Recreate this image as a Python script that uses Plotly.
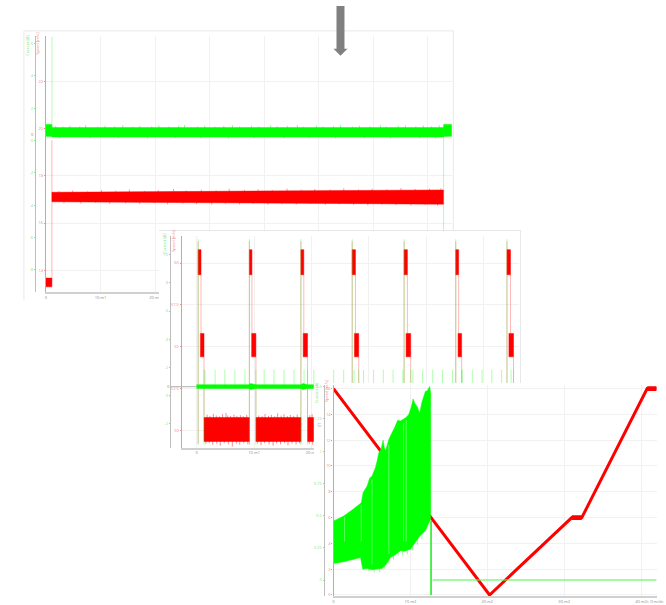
import plotly.graph_objects as go

W, H = 666, 605
RED, GREEN = "#ff0000", "#00ff00"
PINK = "rgba(255,0,0,0.28)"
LGREEN = "rgba(0,255,0,0.32)"
GRID = "#f1f1f1"
AX = "#bdbdbd"

# ---------- panel 1 data: long run ----------
p1_t = [1.1, 72.9]
p1_cur_hi = [0.80, 0.80]
p1_cur_lo = [0.22, 0.22]
p1_spd_hi = [17.30, 17.40]
p1_spd_lo = [16.90, 16.80]
p1_cur_up_t = [1.8, 3.1, 4.4, 6.2, 7.3, 9.5, 10.8, 12.6, 14.1, 15.9, 17.2, 19.4, 20.7, 22.5, 24.3, 25.4, 27.8, 29.1, 31.0, 32.6, 34.2, 35.5, 37.7, 39.0, 41.2, 42.4, 44.3, 46.1, 47.2, 49.6, 50.8, 52.7, 54.0, 56.2, 57.5, 59.4, 61.3, 62.4, 64.6, 65.9, 67.8, 69.2, 70.7, 72.1]
p1_cur_up_v = [0.90, 0.86, 0.92, 0.87, 0.95, 0.86, 0.91, 0.88, 0.94, 0.86, 0.90, 0.87, 0.93, 0.86, 0.89, 0.95, 0.87, 0.92, 0.86, 0.90, 0.94, 0.87, 0.91, 0.86, 0.93, 0.88, 0.90, 0.96, 0.86, 0.92, 0.87, 0.90, 0.94, 0.86, 0.91, 0.88, 0.95, 0.86, 0.90, 0.93, 0.87, 0.92, 0.88, 0.94]
p1_cur_dn_t = [2.5, 8.1, 13.3, 18.6, 23.7, 28.4, 33.5, 38.2, 43.6, 48.3, 53.1, 58.4, 63.2, 68.5, 71.4]
p1_cur_dn_v = [0.16, 0.15, 0.17, 0.14, 0.16, 0.15, 0.13, 0.16, 0.15, 0.17, 0.14, 0.16, 0.13, 0.15, 0.14]
p1_spd_up_t = [2.4, 4.9, 7.6, 10.2, 12.8, 15.3, 18.1, 20.6, 23.4, 25.7, 28.5, 31.2, 33.6, 36.4, 38.9, 41.5, 44.2, 46.8, 49.3, 52.1, 54.6, 57.3, 59.8, 62.5, 65.1, 67.7, 70.3, 72.4]
p1_spd_up_v = [17.36, 17.38, 17.34, 17.40, 17.37, 17.42, 17.36, 17.39, 17.44, 17.38, 17.41, 17.38, 17.45, 17.40, 17.43, 17.40, 17.46, 17.41, 17.44, 17.42, 17.47, 17.42, 17.45, 17.43, 17.48, 17.44, 17.46, 17.47]
p1_spd_dn_t = [3.3, 6.4, 9.1, 11.7, 14.6, 17.2, 19.8, 22.3, 25.1, 27.6, 30.4, 32.9, 35.5, 38.0, 40.7, 43.3, 45.9, 48.4, 51.2, 53.8, 56.4, 59.0, 61.6, 64.2, 66.9, 69.5, 71.8]
p1_spd_dn_v = [16.84, 16.82, 16.85, 16.81, 16.83, 16.80, 16.84, 16.79, 16.82, 16.80, 16.78, 16.82, 16.79, 16.81, 16.77, 16.80, 16.78, 16.81, 16.76, 16.79, 16.77, 16.75, 16.78, 16.76, 16.74, 16.77, 16.73]
p1_start_t = [0, 1.1]
p1_start_cur_hi = [0.99, 0.99]
p1_start_cur_lo = [0.26, 0.26]
p1_start_spd_hi = [13.67, 13.67]
p1_start_spd_lo = [13.30, 13.30]
p1_end_t = [72.9, 74.36]
p1_end_cur_hi = [0.99, 0.99]
p1_end_cur_lo = [0.26, 0.26]
p1_cur_spike_t = [1.1, 1.1, None, 72.9, 72.9]
p1_cur_spike_v = [6.42, 0.5, None, 0.5, -7.0]
p1_spd_step_t = [1.1, 1.1]
p1_spd_step_v = [19.5, 13.67]

p1_x_ticks = [0, 10, 20]
p1_x_labels = ["0", "10 m1", "20 m2"]
p1_x_grid = [0, 10, 20, 30, 40, 50, 60, 70]
p1_cur_ticks = [6, 4, 2, 0, -2, -4, -6, -8]
p1_spd_ticks = [22, 20, 18, 16, 14]

# ---------- panel 2 data: repeated bursts ----------
top_start = [0.25, 9.17, 18.15, 27.08, 36.12, 45.12, 54.04]
top_end = [0.75, 9.62, 18.65, 27.65, 36.69, 45.62, 54.65]
low_start = [0.65, 9.57, 18.55, 27.48, 36.47, 45.52, 54.38]
low_end = [1.27, 10.31, 19.30, 28.22, 37.27, 46.14, 55.18]
top_hi, top_lo = 60.8, 59.3
low_hi, low_lo = 55.8, 54.4

band_t = [1.27, 9.17, None, 10.31, 18.15, None, 19.30, 27.08]
band_hi = 50.78
band_lo = 49.35
band_up_t = [1.8, 2.3, 2.9, 3.4, 4.0, 4.5, 5.1, 5.4, 5.9, 6.5, 7.0, 7.6, 8.1, 8.7, 10.8, 11.4, 11.9, 12.5, 13.0, 13.6, 14.1, 14.7, 15.2, 15.8, 16.3, 16.9, 17.5, 19.7, 20.1]
band_up_v = [50.95, 50.88, 51.0, 50.9, 50.85, 50.98, 51.05, 50.9, 50.87, 50.95, 50.88, 50.92, 50.86, 50.94, 50.9, 50.86, 51.0, 50.88, 50.94, 50.86, 51.03, 50.9, 50.98, 50.86, 50.93, 50.88, 50.95, 50.92, 50.97]
band_dn_t = [1.6, 2.2, 2.8, 3.5, 4.1, 4.8, 5.5, 6.2, 6.9, 7.5, 8.2, 8.9, 10.6, 11.2, 11.8, 12.6, 13.3, 13.9, 14.6, 15.3, 15.9, 16.6, 17.3, 17.9, 19.6, 20.2]
band_dn_v = [49.2, 49.25, 49.15, 49.22, 49.1, 49.25, 49.18, 49.05, 49.22, 49.15, 49.24, 49.18, 49.22, 49.14, 49.25, 49.18, 49.1, 49.24, 49.18, 49.25, 49.12, 49.22, 49.17, 49.25, 49.2, 49.16]
p2_spike_t = [1.45, 3.2, 4.9, 6.65, 8.4, 11.75, 13.45, 15.2, 16.95, 18.7,
              20.4, 23.85, 25.6, 27.4, 29.05, 30.8, 32.5, 34.2, 35.9, 37.65,
              39.35, 41.1, 42.8, 44.55, 46.25, 48.0, 49.7, 51.4, 53.1, 54.75]
p2_spike_hi = 1.84
p2_base_t = [0, 9.0, 9.4, 10.4, 18.1, 18.5, 19.3, 55.5]
p2_base_hi = [0.78, 0.78, 0.86, 0.78, 0.78, 0.86, 0.78, 0.78]
p2_base_lo = [0.52, 0.52, 0.44, 0.52, 0.52, 0.44, 0.52, 0.52]
p2_cur_top = 11.1
p2_cur_bottom = -3.5
p2_x_ticks = [0, 10, 20]
p2_x_labels = ["0", "10 m1", "20 m2"]
p2_x_grid = [0, 10, 20, 30, 40, 50]
p2_cur_ticks = [10, 8, 6, 4, 2, 0, -2]
p2_spd_ticks = [60, 57.5, 55, 52.5, 50]

# ---------- panel 3 data: zoomed ramp ----------
p3_speed_t = [0, 20.3, 31.0, 32.3, 40.8, 42.0]
p3_speed_v = [16, 0, 6, 6, 16, 16]
p3_flat_t = [31.0, 32.3, None, 40.8, 42.0]
p3_flat_v = [6, 6, None, 16, 16]
p3_hi_t = [0.04, 1.34, 2.42, 3.51, 3.62, 3.85, 4.37, 4.7, 5.02, 5.3, 5.45, 5.7, 5.89, 6.2, 6.45, 6.6, 6.75, 7.0, 7.19, 7.5, 7.75, 8.0, 8.35, 8.7, 9.13, 9.4, 9.78, 10.1, 10.35, 10.6, 10.87, 11.21, 11.5, 11.95, 12.2, 12.51, 12.64]
p3_hi_v = [0.459, 0.4975, 0.544, 0.596, 0.60, 0.678, 0.730, 0.79, 0.807, 0.85, 0.871, 0.93, 0.987, 1.02, 1.085, 1.03, 1.0, 1.05, 1.09, 1.13, 1.168, 1.19, 1.24, 1.235, 1.25, 1.26, 1.284, 1.34, 1.405, 1.37, 1.348, 1.297, 1.38, 1.464, 1.47, 1.503, 1.451]
p3_lo_t = [0.04, 1.34, 3.51, 3.81, 4.4, 5.02, 5.6, 6.32, 6.9, 7.40, 8.0, 8.70, 9.3, 10.0, 10.6, 11.30, 11.95, 12.51, 12.64]
p3_lo_v = [0.129, 0.142, 0.175, 0.085, 0.09, 0.080, 0.085, 0.09, 0.125, 0.175, 0.195, 0.227, 0.225, 0.24, 0.285, 0.348, 0.382, 0.459, 0.48]
p3_whisk_t = [3.95, 4.6, 5.3, 6.0, 6.6, 7.2, 7.8, 8.4, 9.0, 9.6, 10.3, 10.9, 11.5]
p3_whisk_hi = [0.08, 0.07, 0.06, 0.06, 0.09, 0.13, 0.16, 0.19, 0.19, 0.20, 0.23, 0.27, 0.32]
p3_whisk_lo = [0.12, 0.12, 0.12, 0.12, 0.15, 0.20, 0.24, 0.25, 0.26, 0.28, 0.31, 0.36, 0.40]
p3_pale_t = [1.44, 3.6, 5.0, 7.2, 9.1, 9.45]
p3_pale_hi = [0.49, 0.58, 0.78, 1.05, 1.22, 1.24]
p3_pale_lo = [0.30, 0.30, 0.12, 0.20, 0.30, 0.30]
p3_drop_t = [12.69, 12.69]
p3_drop_v = [0.46, -0.116]
p3_rest_t = [12.9, 42.0]
p3_rest_v = [0.0, 0.0]
p3_x_ticks = [0, 10, 20, 30, 40]
p3_x_labels = ["0", "10 m2", "20 m2", "30 m2", "40 m2"]
p3_cur_ticks = [0, 0.25, 0.5, 0.75, 1, 1.25, 1.5]
p3_spd_ticks = [0, 2, 4, 6, 8, 10, 12, 14, 16]


def xdom(a, b):
    return [a / W, b / W]


def ydom(top, bottom):
    return [1 - bottom / H, 1 - top / H]


def poly(ts, hi, lo):
    return list(ts) + list(ts)[::-1] + [ts[0]], list(hi) + list(lo)[::-1] + [hi[0]]


def poly2(t_hi, hi, t_lo, lo):
    return list(t_hi) + list(t_lo)[::-1] + [t_hi[0]], list(hi) + list(lo)[::-1] + [hi[0]]


def rects(starts, ends, lo, hi):
    xs, ys = [], []
    for s, e in zip(starts, ends):
        xs += [s, e, e, s, s, None]
        ys += [lo, lo, hi, hi, lo, None]
    return xs, ys


def whiskers(ts, tips, base):
    xs, ys = [], []
    for i, t in enumerate(ts):
        b = base[i] if isinstance(base, list) else base
        xs += [t, t, None]
        ys += [b, tips[i], None]
    return xs, ys


fig = go.Figure()


def area(xs, ys, color, xa, ya, lw=0.5):
    fig.add_trace(go.Scatter(x=xs, y=ys, mode="lines", fill="toself", fillcolor=color,
                             line=dict(color=color, width=lw), xaxis=xa, yaxis=ya,
                             showlegend=False, hoverinfo="skip"))


def line(xs, ys, color, xa, ya, lw=1):
    fig.add_trace(go.Scatter(x=xs, y=ys, mode="lines", line=dict(color=color, width=lw),
                             xaxis=xa, yaxis=ya, showlegend=False, hoverinfo="skip"))


SOFT_G = "rgba(0,255,0,0.65)"
SOFT_R = "rgba(255,0,0,0.6)"

# panel 1: axes x / y (speed) / y2 (current)
line(p1_spd_step_t, p1_spd_step_v, PINK, "x", "y")
area(*poly(p1_t, p1_spd_hi, p1_spd_lo), RED, "x", "y")
line(*whiskers(p1_spd_up_t, p1_spd_up_v, 17.3), SOFT_R, "x", "y", 0.7)
line(*whiskers(p1_spd_dn_t, p1_spd_dn_v, 16.9), SOFT_R, "x", "y", 0.7)
area(*poly(p1_start_t, p1_start_spd_hi, p1_start_spd_lo), RED, "x", "y")
line(p1_cur_spike_t, p1_cur_spike_v, LGREEN, "x", "y2")
area(*poly(p1_t, p1_cur_hi, p1_cur_lo), GREEN, "x", "y2")
line(*whiskers(p1_cur_up_t, p1_cur_up_v, 0.75), SOFT_G, "x", "y2", 0.8)
line(*whiskers(p1_cur_dn_t, p1_cur_dn_v, 0.25), SOFT_G, "x", "y2", 0.8)
area(*poly(p1_start_t, p1_start_cur_hi, p1_start_cur_lo), GREEN, "x", "y2")
area(*poly(p1_end_t, p1_end_cur_hi, p1_end_cur_lo), GREEN, "x", "y2")

# panel 2: axes x3 / y4 (speed) / y5 (current)
long_x, long_y = [], []
for s, le in zip(top_start, low_end):
    long_x += [s, s, None, le, le, None]
    long_y += [p2_cur_top, p2_cur_bottom, None, p2_spike_hi, p2_cur_bottom, None]
line(long_x, long_y, "rgba(0,255,0,0.25)", "x3", "y5")
sp_x, sp_y = [], []
for t in p2_spike_t:
    sp_x += [t, t, None]
    sp_y += [p2_spike_hi, 0.6, None]
line(sp_x, sp_y, LGREEN, "x3", "y5")
area(*poly(p2_base_t, p2_base_hi, p2_base_lo), GREEN, "x3", "y5")
pink_x, pink_y = [], []
for s, e, le in zip(top_start, top_end, low_end):
    pink_x += [s, s, None, e, e, None, le, le, None]
    pink_y += [61.3, 49.2, None, top_lo, low_hi, None, low_lo, 50.8, None]
line(pink_x, pink_y, PINK, "x3", "y4")
area(*rects(top_start, top_end, top_lo, top_hi), RED, "x3", "y4")
area(*rects(low_start, low_end, low_lo, low_hi), RED, "x3", "y4")
band_x, band_y = [], []
for i in range(0, len(band_t), 3):
    band_x += [band_t[i], band_t[i + 1], band_t[i + 1], band_t[i], band_t[i], None]
    band_y += [band_lo, band_lo, band_hi, band_hi, band_lo, None]
area(band_x, band_y, RED, "x3", "y4")
line(*whiskers(band_up_t, band_up_v, 50.7), SOFT_R, "x3", "y4", 0.8)
line(*whiskers(band_dn_t, band_dn_v, 49.4), SOFT_R, "x3", "y4", 0.8)

# panel 3: axes x5 / y7 (speed) / y8 (current)
line(p3_rest_t, p3_rest_v, "rgba(90,245,90,0.75)", "x5", "y8", 1.6)
line(p3_speed_t, p3_speed_v, RED, "x5", "y7", 3)
line(p3_flat_t, p3_flat_v, RED, "x5", "y7", 4.6)
area(*poly2(p3_hi_t, p3_hi_v, p3_lo_t, p3_lo_v), GREEN, "x5", "y8")
line(*whiskers(p3_whisk_t, p3_whisk_hi, p3_whisk_lo), "rgba(0,255,0,0.55)", "x5", "y8", 0.8)
line(*whiskers(p3_pale_t, p3_pale_hi, p3_pale_lo), "rgba(170,255,170,0.7)", "x5", "y8", 0.8)
line(p3_drop_t, p3_drop_v, "#22ee22", "x5", "y8", 1.6)

base_y = dict(showline=True, linecolor=AX, linewidth=1, zeroline=False, ticks="outside",
              ticklen=1, tickwidth=0.5)


def green_axis(pos, dom, rng, vals, over):
    return dict(base_y, domain=dom, range=rng, tickmode="array", tickvals=vals,
                ticktext=[str(v) for v in vals], tickfont=dict(size=4, color="#7fe87f"),
                tickcolor="#7fe87f", showgrid=False, anchor="free", position=pos / W,
                overlaying=over, side="left")


def red_axis(dom, rng, vals, xa):
    return dict(base_y, domain=dom, range=rng, tickmode="array", tickvals=vals,
                ticktext=[str(v) for v in vals], tickfont=dict(size=4, color="#f08a8a"),
                tickcolor="#f08a8a", showgrid=True, gridcolor=GRID, gridwidth=1,
                anchor=xa, linecolor="#b0b0b0", linewidth=1.3)


def x_axis(dom, rng, vals, labels, ya):
    return dict(domain=dom, range=rng, tickmode="array", tickvals=vals, ticktext=labels,
                tickfont=dict(size=4, color="#8a8a8a"), showgrid=True, gridcolor=GRID,
                gridwidth=1, zeroline=False, showline=True, linecolor="#d0d0d0", linewidth=1.5,
                ticks="", anchor=ya)


def hidden(dom, rng, anchor, side):
    return dict(domain=dom, range=rng, anchor=anchor, side=side, showgrid=False, zeroline=False,
                showticklabels=False, ticks="", fixedrange=True)


p1_lbl = p1_x_labels + [""] * (len(p1_x_grid) - len(p1_x_labels))
p2_lbl = p2_x_labels + [""] * (len(p2_x_grid) - len(p2_x_labels))

layout = dict(
    width=W, height=H, margin=dict(l=0, r=0, t=0, b=0, pad=0), autosize=False,
    paper_bgcolor="white", plot_bgcolor="rgba(0,0,0,0)", showlegend=False,
    # panel 1
    xaxis=x_axis(xdom(45, 452), [0, 74.5], p1_x_grid, p1_lbl, "y"),
    yaxis=red_axis(ydom(35, 292), [13.08, 23.92], p1_spd_ticks, "x"),
    yaxis2=green_axis(34, ydom(35, 292), [-9.38, 6.48], p1_cur_ticks, "y"),
    # panel 2 white backing
    xaxis2=dict(hidden(xdom(158, 520), [0, 1], "y3", "top"), showline=True, linecolor="#e8e8e8", linewidth=1),
    yaxis3=dict(hidden(ydom(231, 452), [0, 1], "x2", "right"), showline=True, linecolor="#e8e8e8", linewidth=1),
    # panel 2
    xaxis3=x_axis(xdom(181, 519), [-2.61, 56.17], p2_x_grid, p2_lbl, "y4"),
    yaxis4=red_axis(ydom(236, 448), [48.99, 61.6], p2_spd_ticks, "x3"),
    yaxis5=green_axis(169, ydom(236, 448), [-3.67, 11.3], p2_cur_ticks, "y4"),
    # panel 3 white backing
    xaxis4=hidden(xdom(313, 666), [0, 1], "y6", "bottom"),
    yaxis6=hidden(ydom(383, 605), [0, 1], "x4", "left"),
    # panel 3
    xaxis5=x_axis(xdom(333, 657), [0, 42.08], p3_x_ticks, p3_x_labels, "y7"),
    yaxis7=red_axis(ydom(385, 597), [-0.08, 16.3], p3_spd_ticks, "x5"),
    yaxis8=green_axis(323, ydom(385, 597), [-0.124, 1.516], p3_cur_ticks, "y7"),
)

shapes = [
    # panel 1 frame
    dict(type="path", xref="paper", yref="paper", layer="below", line=dict(color="#e8e8e8", width=1),
         path=f"M {23/W} {1-300/H} L {23/W} {1-30/H} L {453/W} {1-30/H} L {453/W} {1-231/H}"),
    # white backings of the overlapping screenshots
    dict(type="rect", xref="x2", yref="y3", x0=0, x1=1, y0=0, y1=1, layer="below",
         fillcolor="white", line=dict(width=0)),
    dict(type="rect", xref="x4", yref="y6", x0=0, x1=1, y0=0, y1=1, layer="below",
         fillcolor="white", line=dict(width=0)),
    # grey zero rule of panel 2
    dict(type="line", xref="x2", yref="y3", x0=(170-158)/362, x1=(197-158)/362,
         y0=(452-387)/221, y1=(452-387)/221, layer="below", line=dict(color="#b0b0b0", width=1)),
    # grey arrow
    dict(type="path", xref="paper", yref="paper", layer="above", fillcolor="#808080",
         line=dict(color="#808080", width=0),
         path=" ".join(["M", f"{336/W} {1-5/H}", "L", f"{344/W} {1-5/H}", "L", f"{344/W} {1-48/H}",
                        "L", f"{347/W} {1-48/H}", "L", f"{340/W} {1-55/H}", "L", f"{333/W} {1-48/H}",
                        "L", f"{336/W} {1-48/H}", "Z"])),
]
layout["shapes"] = shapes


def note(text, px, py, color, angle=-90, size=4):
    return dict(text=text, x=px / W, y=1 - py / H, xref="paper", yref="paper", showarrow=False,
                textangle=angle, font=dict(size=size, color=color), xanchor="center", yanchor="middle")


layout["annotations"] = [
    note("Current [A]", 27, 44, "#7fe87f"),
    note("Speed [m/s]", 37, 43, "#f08a8a"),
    note("0", 32, 134, "#8a8a8a", 0),
    note("Current [A]", 163, 243, "#7fe87f"),
    note("Speed [m/s]", 172, 241, "#f08a8a"),
    note("0", 168, 387, "#8a8a8a", 0),
    note("Current [A]", 316, 393, "#7fe87f"),
    note("Speed [m/s]", 326, 392, "#f08a8a"),
    note("ET", 319, 425, "#8a8a8a"),
    note("t: 10 ms/div", 655, 603, "#8a8a8a", 0, 3),
]
fig.update_layout(**layout)
fig.write_html("out.html", config=dict(displayModeBar=False), post_script="document.body.style.margin='0';")
